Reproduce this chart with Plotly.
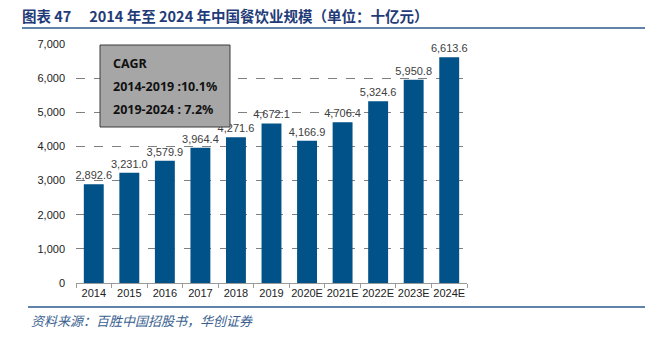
import plotly.graph_objects as go

years = ["2014", "2015", "2016", "2017", "2018", "2019", "2020E", "2021E", "2022E", "2023E", "2024E"]
values = [2892.6, 3231.0, 3579.9, 3964.4, 4271.6, 4672.1, 4166.9, 4706.4, 5324.6, 5950.8, 6613.6]
tick_vals = [0, 1000, 2000, 3000, 4000, 5000, 6000, 7000]
title_text = "图表 47\u2003 2014 年至 2024 年中国餐饮业规模（单位：十亿元）"
source_text = "资料来源：百胜中国招股书，华创证券"
cagr_lines = ["CAGR", "2014-2019 :10.1%", "2019-2024 : 7.2%"]

W, H = 664, 338
L, R, T, B = 76, 467, 44, 283


def px(x):
    return (x - L) / (R - L)


def py(y):
    return (B - y) / (B - T)


fig = go.Figure()
fig.add_trace(go.Bar(
    x=years, y=values,
    marker=dict(color="#005288", line=dict(width=0)),
    text=[f"{v:,.1f}" for v in values],
    textposition="outside",
    constraintext="none",
    textfont=dict(family="Liberation Sans, Arial", size=11, color="#404040"),
    cliponaxis=False,
    width=0.56,
))

fig.update_layout(
    width=W, height=H,
    margin=dict(l=L, r=W - R, t=T, b=H - B, pad=0),
    plot_bgcolor="white", paper_bgcolor="white",
    showlegend=False,
    font=dict(family="Liberation Sans, Arial", size=11, color="#222222"),
    bargap=0.44,
    uniformtext=dict(mode=False),
)
fig.update_yaxes(
    range=[0, 7000], tickvals=tick_vals, tickformat=",d",
    showgrid=True, gridcolor="#808080", griddash="dash", gridwidth=1,
    zeroline=False, showline=False, ticks="",
    tickfont=dict(size=11, color="#222222"), ticklabelstandoff=10,
)
fig.update_xaxes(
    showline=True, linecolor="#9a9a9a", linewidth=1,
    ticks="outside", tickson="boundaries", ticklen=4, tickcolor="#9a9a9a",
    tickangle=0,
    tickfont=dict(size=11, color="#222222"),
)

# CAGR box
fig.add_shape(type="rect", xref="paper", yref="paper",
              x0=px(100), x1=px(230), y0=py(127), y1=py(45),
              fillcolor="#A6A6A6", line=dict(color="#3a3a3a", width=1), layer="above")
for i, t in enumerate(cagr_lines):
    fig.add_annotation(xref="paper", yref="paper", x=px(111), y=py(63 + 23 * i),
                       text=f"<b>{t}</b>", showarrow=False, xanchor="left", yanchor="middle",
                       font=dict(family="Noto Sans, Open Sans", size=12.5, color="#111111"))

# title and rules
fig.add_annotation(xref="paper", yref="paper", x=px(20), y=py(16), text=f"<b>{title_text}</b>",
                   showarrow=False, xanchor="left", yanchor="middle",
                   font=dict(family="Noto Sans CJK SC", size=14.5, color="#1F3C78"))
fig.add_shape(type="line", xref="paper", yref="paper", x0=px(22), x1=px(645), y0=py(28), y1=py(28),
              line=dict(color="#2E5A8C", width=1.5))
fig.add_shape(type="line", xref="paper", yref="paper", x0=px(28), x1=px(645), y0=py(307), y1=py(307),
              line=dict(color="#2E5A8C", width=1.5))
fig.add_annotation(xref="paper", yref="paper", x=px(29), y=py(320), text=f"<i>{source_text}</i>",
                   showarrow=False, xanchor="left", yanchor="middle",
                   font=dict(family="Noto Sans CJK SC", size=13, color="#3A5F8F"))

fig.write_html("out.html")
